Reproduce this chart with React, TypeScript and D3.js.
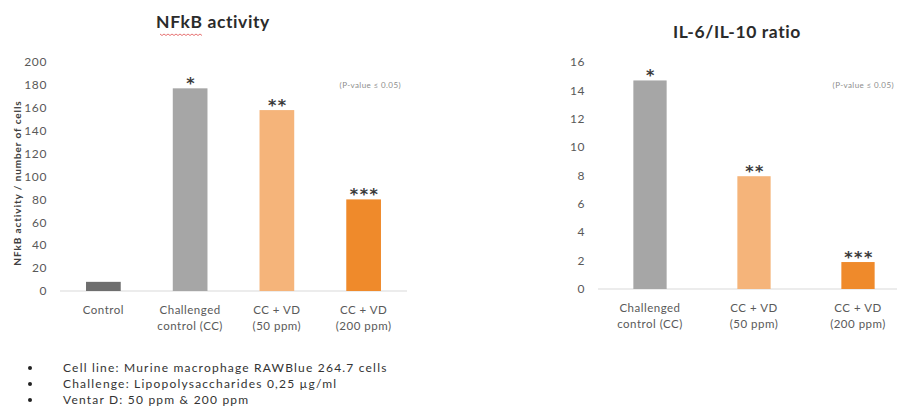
import React from "react";
import * as d3 from "d3";

const nfkbCategories = ["Control", "Challenged\ncontrol (CC)", "CC + VD\n(50 ppm)", "CC + VD\n(200 ppm)"];
const nfkbValues = [8, 177, 158, 80];
const nfkbStars = ["", "*", "**", "***"];
const nfkbColors = ["#6e6e6e", "#a6a6a6", "#f5b47a", "#ef8a2b"];
const nfkbTicks = [0, 20, 40, 60, 80, 100, 120, 140, 160, 180, 200];

const ilCategories = ["Challenged\ncontrol (CC)", "CC + VD\n(50 ppm)", "CC + VD\n(200 ppm)"];
const ilValues = [14.7, 7.95, 1.9];
const ilStars = ["*", "**", "***"];
const ilColors = ["#a6a6a6", "#f5b47a", "#ef8a2b"];
const ilTicks = [0, 2, 4, 6, 8, 10, 12, 14, 16];

const notes = [
  "Cell line: Murine macrophage RAWBlue 264.7 cells",
  "Challenge: Lipopolysaccharides 0,25 µg/ml",
  "Ventar D: 50 ppm & 200 ppm",
];

const FONT = "Lato, 'Open Sans', sans-serif";

function Panel(props: {
  cats: string[]; vals: number[]; stars: string[]; colors: string[]; ticks: number[];
  yMax: number; yTop: number; yBot: number; x0: number; x1: number; tickX: number;
  title: string; titleX: number; titleY: number; pX: number; yLabel?: string; pad: number;
}) {
  const { cats, vals, stars, colors, ticks } = props;
  const y = d3.scaleLinear().domain([0, props.yMax]).range([props.yBot, props.yTop]);
  const x = d3.scaleBand().domain(cats).range([props.x0, props.x1]).paddingInner(props.pad).paddingOuter(props.pad / 2);
  return (
    <g fontFamily={FONT}>
      <text x={props.titleX} y={props.titleY} textAnchor="middle" fontWeight="bold" fontSize={17.5} letterSpacing={0.6} fill="#2b2b2b">{props.title}</text>
      {ticks.map((t) => (
        <text key={t} x={props.tickX} y={y(t)} dy="0.35em" textAnchor="end" fontSize={12} letterSpacing={0.6} fill="#595959">{t}</text>
      ))}
      <line x1={props.x0} x2={Math.min(props.x1, 897)} y1={y(0)} y2={y(0)} stroke="#d9d9d9" strokeWidth={1} />
      {cats.map((c, i) => {
        const bx = x(c)!;
        const bw = x.bandwidth();
        const cx = bx + bw / 2;
        return (
          <g key={c}>
            <rect x={bx} y={y(vals[i])} width={bw} height={y(0) - y(vals[i])} fill={colors[i]} />
            {stars[i] && (
              <text x={cx + 1} y={y(vals[i]) + 1} textAnchor="middle" fontFamily="'DejaVu Sans', sans-serif" fontSize={16} fontWeight="bold" fill="#3a3a3a" letterSpacing={1.5}>{stars[i]}</text>
            )}
            {c.split("\n").map((ln, j) => (
              <text key={j} x={cx} y={y(0) + 23 + j * 16} textAnchor="middle" fontSize={11.5} letterSpacing={0.5} fill="#595959">{ln}</text>
            ))}
          </g>
        );
      })}
      <text x={props.pX} y={88} textAnchor="end" fontSize={8} letterSpacing={0.4} fill="#8c8c8c">(P-value ≤ 0.05)</text>
      {props.yLabel && (
        <text transform={`translate(21,183) rotate(-90)`} textAnchor="middle" fontSize={10} letterSpacing={0.9} fontWeight="bold" fill="#404040">{props.yLabel}</text>
      )}
    </g>
  );
}

export default function App() {
  const wave = d3.range(0, 22).map((i) => [160 + i * 2, 34 + (i % 2 === 0 ? 0 : 1.5)] as [number, number]);
  return (
    <svg width={897} height={417} style={{ position: "absolute", left: 0, top: 0, background: "#fff" }}>
      <Panel cats={nfkbCategories} vals={nfkbValues} stars={nfkbStars} colors={nfkbColors} ticks={nfkbTicks}
        yMax={200} yTop={62} yBot={291} x0={60} x1={407} tickX={47} title="NFkB activity" titleX={213} titleY={28}
        pX={401} yLabel="NFkB activity / number of cells" pad={0.6} />
      <path d={d3.line()(wave)!} fill="none" stroke="#e05050" strokeWidth={0.8} />
      <Panel cats={ilCategories} vals={ilValues} stars={ilStars} colors={ilColors} ticks={ilTicks}
        yMax={16} yTop={62} yBot={289} x0={598} x1={910} tickX={585} title="IL-6/IL-10 ratio" titleX={737} titleY={38}
        pX={894} pad={0.68} />
      <g fontFamily={FONT} fontSize={12} fill="#333">
        {notes.map((n, i) => (
          <g key={i}>
            <circle cx={30} cy={368 + i * 16} r={2} fill="#222" />
            <text x={63} y={368 + i * 16} dy="0.35em" letterSpacing={1.2}>{n}</text>
          </g>
        ))}
      </g>
    </svg>
  );
}
